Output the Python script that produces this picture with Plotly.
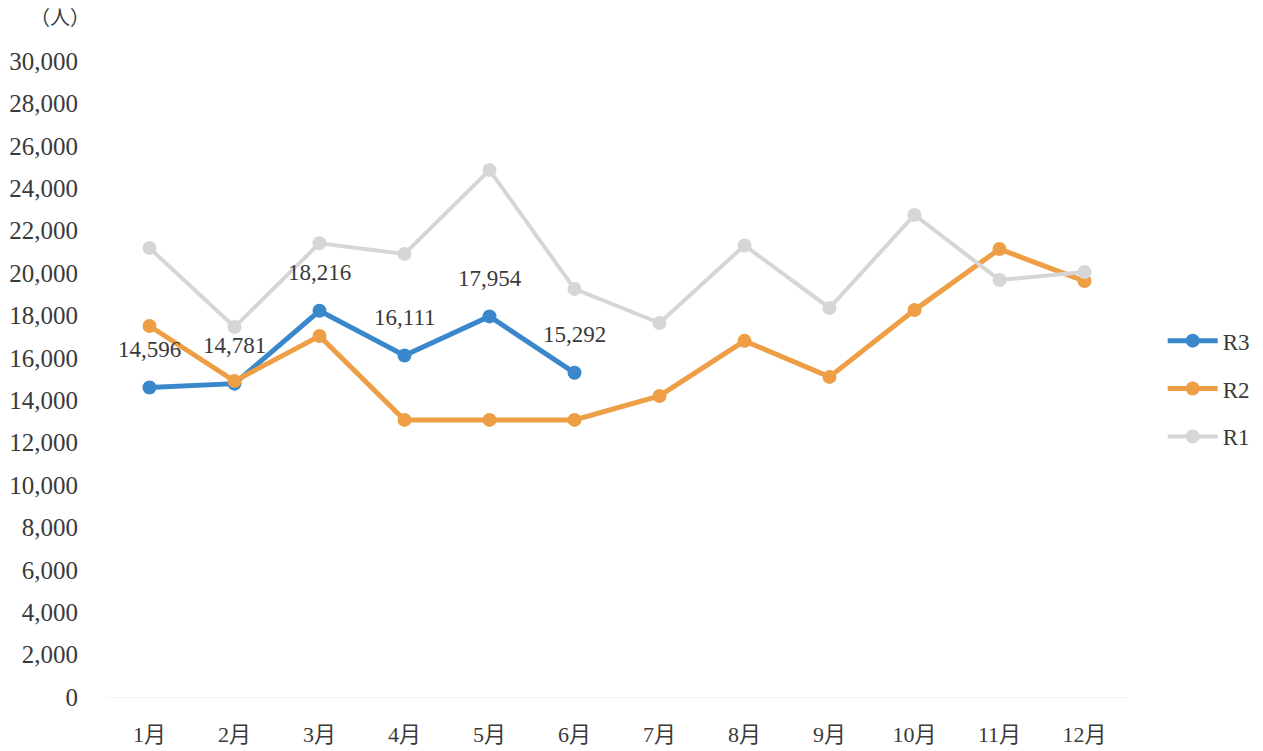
import plotly.graph_objects as go

months = ["1月", "2月", "3月", "4月", "5月", "6月", "7月", "8月", "9月", "10月", "11月", "12月"]
r3 = [14596, 14781, 18216, 16111, 17954, 15292]
r2 = [17500, 14900, 17030, 13070, 13070, 13070, 14200, 16800, 15100, 18250, 21130, 19620]
r1 = [21180, 17450, 21400, 20900, 24860, 19250, 17640, 21300, 18350, 22740, 19670, 20050]
yticks = list(range(0, 30001, 2000))

FONT = "Liberation Serif, DejaVu Serif, Noto Sans CJK JP, serif"
TXT = "#3a3a3a"

fig = go.Figure()
fig.add_trace(go.Scatter(x=months[:len(r3)], y=r3, name="R3", mode="lines+markers",
                         line=dict(color="#3A87CB", width=5), marker=dict(size=14, color="#3A87CB"),
                         legendgroup="r3"))
fig.add_trace(go.Scatter(x=months, y=r2, name="R2", mode="lines+markers",
                         line=dict(color="#EE9F45", width=5), marker=dict(size=14, color="#EE9F45"),
                         legendgroup="r2"))
fig.add_trace(go.Scatter(x=months, y=r1, name="R1", mode="lines+markers",
                         line=dict(color="#D6D6D6", width=4), marker=dict(size=14, color="#D6D6D6"),
                         legendgroup="r1"))

for m, v in zip(months, r3):
    fig.add_annotation(x=m, y=v, text=f"{v:,}", showarrow=False, yshift=38,
                       font=dict(family=FONT, size=23, color=TXT))

fig.add_annotation(xref="paper", yref="paper", x=-0.0147, y=1.068, xanchor="right", yanchor="middle",
                   text="（人）", showarrow=False, font=dict(family=FONT, size=20, color=TXT))

fig.update_layout(
    width=1255, height=743,
    margin=dict(l=99, r=136, t=53, b=54, autoexpand=False),
    paper_bgcolor="white", plot_bgcolor="white",
    font=dict(family=FONT, size=23, color=TXT),
    showlegend=True,
    legend=dict(x=1.035, y=0.594, xanchor="left", yanchor="top", tracegroupgap=15,
                font=dict(family=FONT, size=23, color=TXT), itemwidth=50),
    xaxis=dict(type="category", categoryorder="array", categoryarray=months, automargin=False,
               range=[-0.5, 11.5],
               showgrid=False, zeroline=False, showline=False, ticks="",
               ticklabelstandoff=22, tickfont=dict(family=FONT, size=22, color=TXT)),
    yaxis=dict(range=[0, 30000], tickvals=yticks, ticktext=[f"{t:,}" for t in yticks], automargin=False,
               showgrid=False, zeroline=True, zerolinecolor="#F2F2F2", zerolinewidth=1,
               showline=False, ticks="", ticklabelstandoff=28, tickfont=dict(family=FONT, size=25, color=TXT)),
)

fig.write_html("out.html")
